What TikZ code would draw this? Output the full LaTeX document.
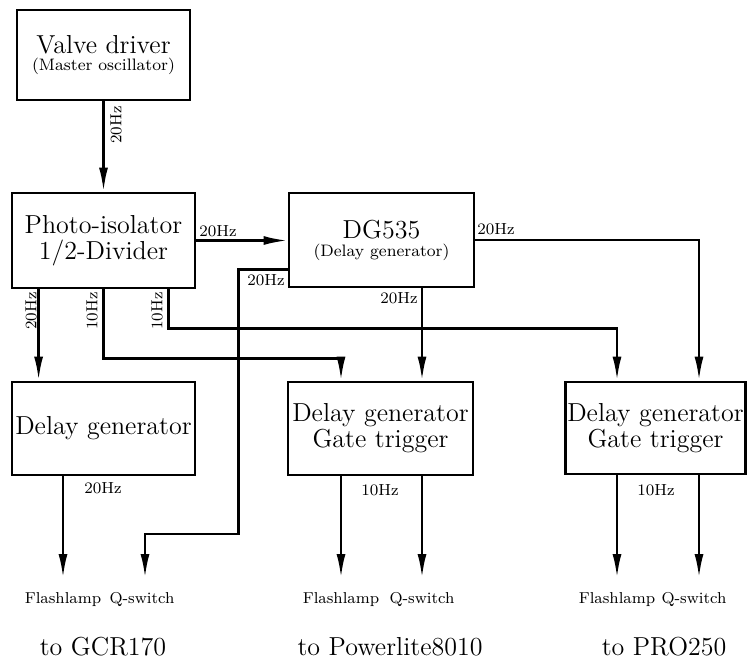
\documentclass[tikz,border=0pt]{standalone}
\usepackage{tikz}
\usetikzlibrary{arrows.meta,positioning,calc}

\newcommand{\subtxt}[1]{{\fontsize{8.3}{9}\selectfont #1}}

\begin{document}
\begin{tikzpicture}[x=0.5pt, y=-0.5pt,
  blk/.style={draw, line width=1.4pt, inner sep=1pt, align=center,
              font=\fontsize{13}{13}\selectfont},
  hz/.style={font=\fontsize{8}{9}\selectfont, inner sep=0.5pt},
  outl/.style={font=\fontsize{7.9}{9}\selectfont, inner sep=0pt},
  dest/.style={font=\fontsize{13}{14}\selectfont, inner sep=0pt, anchor=base},
  ar/.style={-{Latex[length=12pt,width=4.5pt]}, line width=1.3pt}]
\useasboundingbox (0,0) rectangle (747,659);

% boxes
\node[blk, minimum width=86.5pt, minimum height=45pt] (valve) at (103.5,55)
  {Valve driver\\[-4.5pt]\subtxt{(Master oscillator)}};
\node[blk, minimum width=91.5pt, minimum height=47.5pt] (photo) at (103.5,240.5)
  {Photo-isolator\\1/2-Divider};
\node[blk, minimum width=92.5pt, minimum height=47pt] (dg) at (381.5,240)
  {DG535\\[-4pt]\subtxt{(Delay generator)}};
\node[blk, minimum width=91.5pt, minimum height=46.5pt] (dly1) at (103.5,428.5)
  {Delay generator};
\node[blk, minimum width=92.5pt, minimum height=46.5pt] (dly2) at (380.5,428.5)
  {Delay generator\\Gate trigger};
\node[blk, minimum width=89.5pt, minimum height=46pt] (dly3) at (655.5,428)
  {Delay generator\\Gate trigger};

% ends of the output lines
\coordinate (fl1) at (63,578);
\coordinate (qs1) at (145,578);
\coordinate (fl2) at (341,578);
\coordinate (qs2) at (422,578);
\coordinate (fl3) at (617,578);
\coordinate (qs3) at (699,578);

% trigger lines
\draw[ar] (valve) -- (photo);
\draw[ar] (photo.east) -- (photo.east -| dg.west);
\draw[ar] (dg.east) -| (qs3 |- dly3.north);
\draw[ar] (dg.south -| qs2) -- (qs2 |- dly2.north);
\draw[ar] ($(dg.south west)+(0,-19)$) -- ++(-49,0) |- ($(qs1)+(0,-44)$) -- (qs1);
\draw[ar] ($(photo.south west)+(28,0)$) -- ($(dly1.north west)+(28,0)$);
\draw[ar] ($(photo.south west)+(93,0)$) -- ++(0,69) -| (fl2 |- dly2.north);
\draw[ar] ($(photo.south west)+(158,0)$) -- ++(0,39) -| (fl3 |- dly3.north);
\draw[ar] (dly1.south -| fl1) -- (fl1);
\draw[ar] (dly2.south -| fl2) -- (fl2);
\draw[ar] (dly2.south -| qs2) -- (qs2);
\draw[ar] (dly3.south -| fl3) -- (fl3);
\draw[ar] (dly3.south -| qs3) -- (qs3);

% rates
\node[hz, rotate=90] (hzvalve) at (116,125) {20Hz};
\node[hz] (hzphoto) at (218,231) {20Hz};
\node[hz] (hzdgr) at (496,229) {20Hz};
\node[hz] (hzdgb) at (399,298) {20Hz};
\node[hz] (hzdgl) at (266,280) {20Hz};
\node[hz, rotate=90] (hzpa) at (31,311) {20Hz};
\node[hz, rotate=90] (hzpb) at (92,311) {10Hz};
\node[hz, rotate=90] (hzpc) at (157,311) {10Hz};
\node[hz] (hzd1) at (103,488) {20Hz};
\node[hz] (hzd2) at (380,490) {10Hz};
\node[hz] (hzd3) at (656,490) {10Hz};

% outputs
\node[outl, below=7pt of fl1] (flt1) {Flashlamp};
\node[outl, below=7pt of qs1, xshift=-1.5pt] (qst1) {Q-switch};
\node[outl, below=7pt of fl2] (flt2) {Flashlamp};
\node[outl, below=7pt of qs2] (qst2) {Q-switch};
\node[outl, below=7pt of fl3] (flt3) {Flashlamp};
\node[outl, below=7pt of qs3, xshift=-2.5pt] (qst3) {Q-switch};

\node[dest] (gcr) at (103,655) {to GCR170};
\node[dest] (pwl) at (390,655) {to Powerlite8010};
\node[dest] (pro) at (664,655) {to PRO250};
\end{tikzpicture}
\end{document}
